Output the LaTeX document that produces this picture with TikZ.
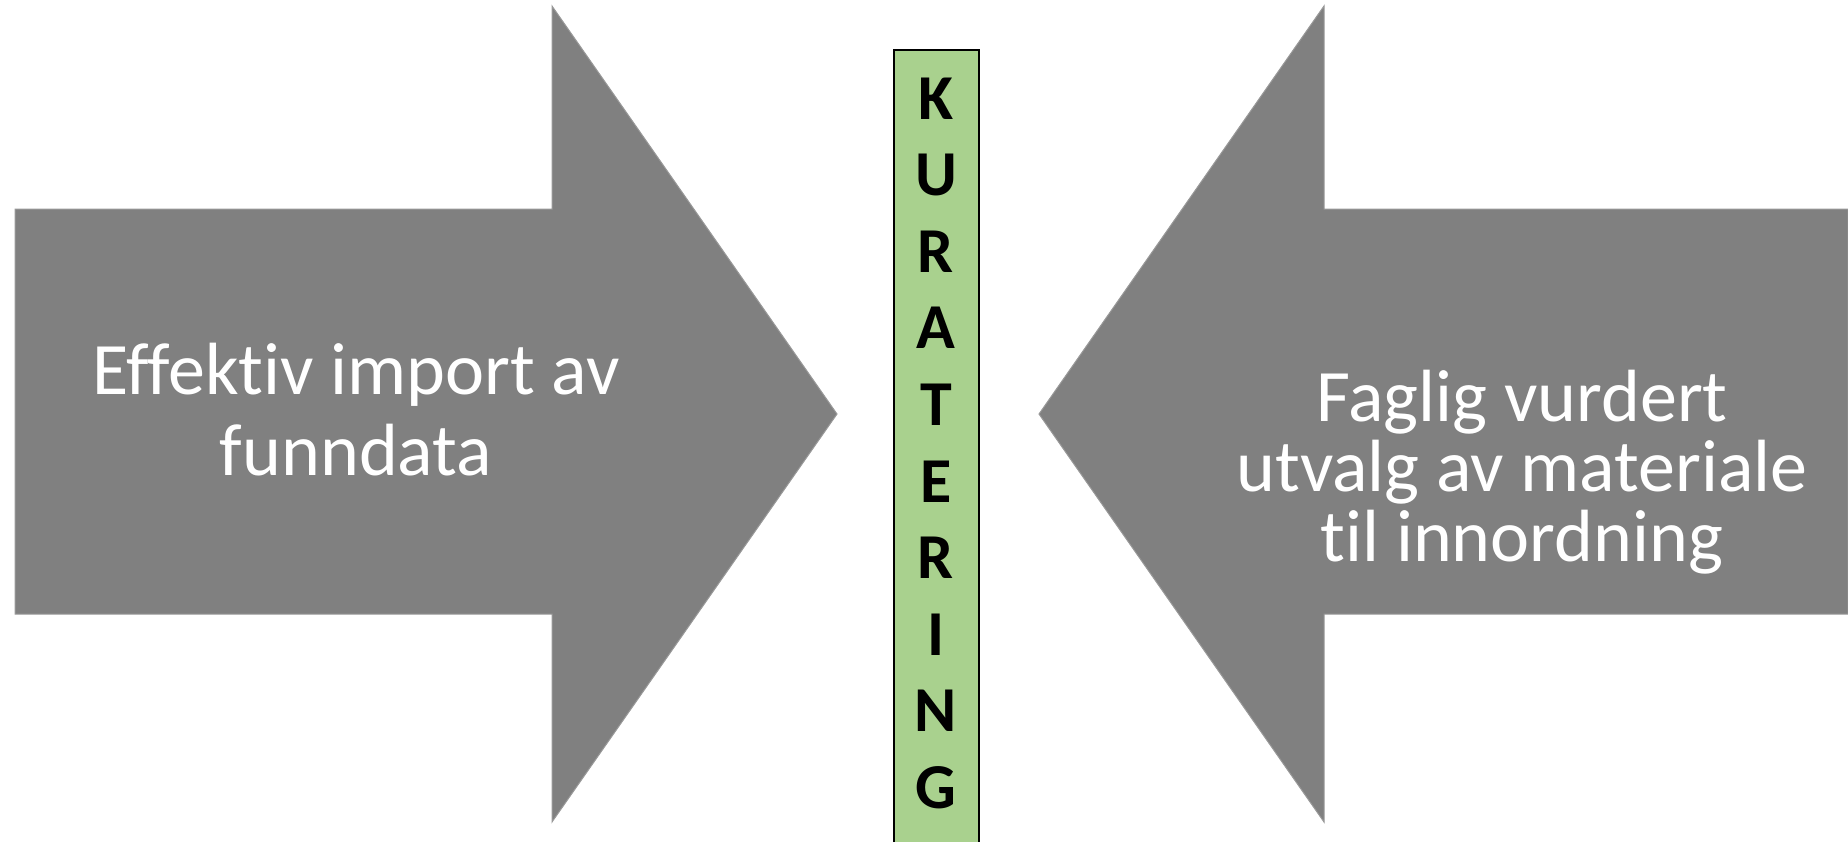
\documentclass[tikz,border=0pt]{standalone}
\usepackage{fontspec}
\setmainfont{Carlito}[Ligatures={NoCommon}]
\definecolor{arrowgray}{HTML}{808080}
\definecolor{kurgreen}{HTML}{A9D18E}
\tikzset{
  flow/.style={fill=arrowgray, draw=arrowgray!80!white, line width=0.5pt},
  flowtext/.style={text=white, align=center, anchor=base, inner sep=0pt},
  kurletter/.style={font=\fontsize{32}{32}\selectfont\bfseries, anchor=base, inner sep=0pt}
}
\begin{document}
\begin{tikzpicture}[x=0.5pt,y=-0.5pt]
\useasboundingbox (0,0) rectangle (1848,842);

% import arrow
\filldraw[flow] (15,209) -- (552,209) -- (552,6) -- (837,414) -- (552,822) -- (552,614) -- (15,614) -- cycle;
\node[flowtext, font=\fontsize{37}{40.5}\selectfont] (import) at (356,475) {Effektiv import av\\funndata};

% selection arrow
\filldraw[flow] (1848,209) -- (1324,209) -- (1324,6) -- (1039,414) -- (1324,822) -- (1324,614) -- (1848,614) -- cycle;
\node[flowtext, font=\fontsize{37}{34.8}\selectfont] (utvalg) at (1522,561) {Faglig vurdert\\utvalg av materiale\\til innordning};

% curation bar
\fill[kurgreen] (894,50) rectangle (979,842);
\draw[line width=1pt] (894,842) -- (894,50) -- (979,50) -- (979,842);
\foreach \c [count=\i from 0] in {K,U,R,A,T,E,R,I,N,G}
  \node[kurletter] (kur\i) at (936,{119+76.6*\i}) {\c};
\end{tikzpicture}
\end{document}
